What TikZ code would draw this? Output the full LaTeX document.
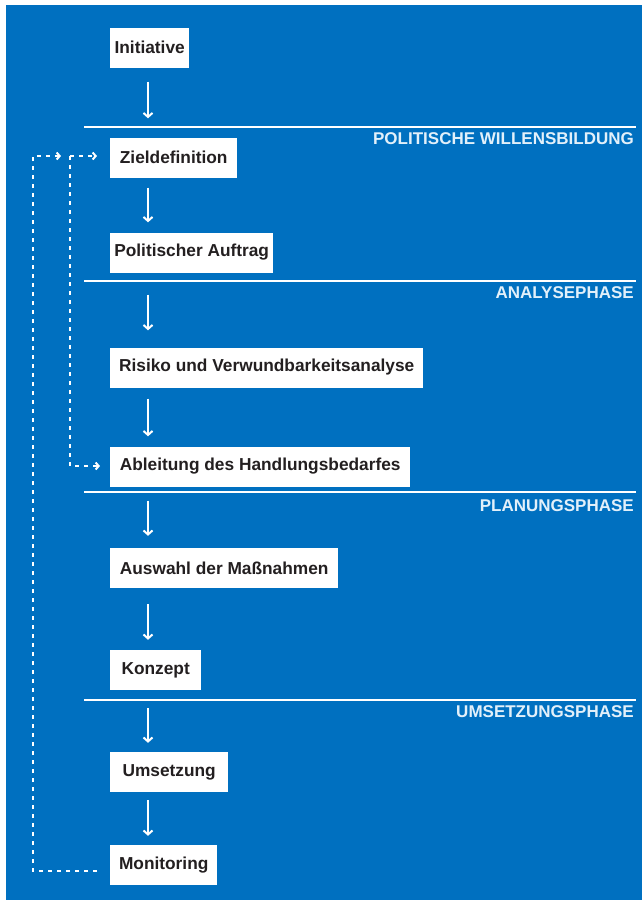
\documentclass[tikz,border=0pt]{standalone}
\usepackage{fontspec}
\setmainfont{Liberation Sans}
\usetikzlibrary{calc,arrows.meta}
\definecolor{bgblue}{HTML}{0070C0}
\definecolor{boxtext}{HTML}{231F20}
\definecolor{phasetext}{HTML}{E2F0FA}
\begin{document}
\begin{tikzpicture}[x=1pt,y=-1pt,
  stepbox/.style={fill=white, draw=none, anchor=west, inner xsep=4pt,
    minimum height=40pt, text=boxtext,
    font=\fontsize{17.3}{20}\selectfont\bfseries},
  phase/.style={anchor=east, text=phasetext, inner sep=0pt,
    font=\fontsize{17}{20}\selectfont\bfseries},
  divider/.style={draw=white, line width=2pt},
  flow/.style={draw=white, line width=2pt,
    -{Straight Barb[length=4pt,width=9pt,line width=2pt]}},
  feedback/.style={draw=white, line width=2pt, dash pattern=on 4pt off 5pt},
  feedarrow/.style={feedback, -{Straight Barb[length=3pt,width=7pt,line width=2pt]}}]

% canvas
\useasboundingbox (0,0) rectangle (642,900);
\fill[bgblue] (6,5) rectangle (642,900);

% process steps
\node[stepbox, minimum width=79pt]  (init)    at (110,47.5)  {Initiative};
\node[stepbox, minimum width=127pt] (ziel)    at (110,157.5) {Zieldefinition};
\node[stepbox, minimum width=163pt] (auftrag) at (110,252.5) {Politischer Auftrag};
\node[stepbox, minimum width=313pt] (risiko)  at (110,367.5) {Risiko und Verwundbarkeitsanalyse};
\node[stepbox, minimum width=300pt] (ableit)  at (110,466.5) {Ableitung des Handlungsbedarfes};
\node[stepbox, minimum width=228pt] (auswahl) at (110,568)   {Auswahl der Maßnahmen};
\node[stepbox, minimum width=91pt]  (konzept) at (110,670)   {Konzept};
\node[stepbox, minimum width=118pt] (umsetz)  at (110,772)   {Umsetzung};
\node[stepbox, minimum width=107pt] (monitor) at (110,865)   {Monitoring};

% phase dividers
\coordinate (d1l) at (84,127);  \coordinate (d1r) at (636,127);
\coordinate (d2l) at (84,281);  \coordinate (d2r) at (636,281);
\coordinate (d3l) at (84,492);  \coordinate (d3r) at (636,492);
\coordinate (d4l) at (84,700);  \coordinate (d4r) at (636,700);
\draw[divider] (d1l) -- (d1r);
\draw[divider] (d2l) -- (d2r);
\draw[divider] (d3l) -- (d3r);
\draw[divider] (d4l) -- (d4r);

\node[phase] (p1) at (634,139) {POLITISCHE WILLENSBILDUNG};
\node[phase] (p2) at (634,293) {ANALYSEPHASE};
\node[phase] (p3) at (634,506) {PLANUNGSPHASE};
\node[phase] (p4) at (634,712) {UMSETZUNGSPHASE};

% main flow
\draw[flow] ($(init.south west)+(38,14)$) -- ($(ziel.north west)+(38,-19)$);
\draw[flow] ($(ziel.south west)+(38,10)$) -- ($(auftrag.north west)+(38,-10)$);
\draw[flow] ($(auftrag.south west)+(38,22)$) -- ($(risiko.north west)+(38,-17)$);
\draw[flow] ($(risiko.south west)+(38,11)$) -- ($(ableit.north west)+(38,-10)$);
\draw[flow] ($(ableit.south west)+(38,14)$) -- ($(auswahl.north west)+(38,-12)$);
\draw[flow] ($(auswahl.south west)+(38,16)$) -- ($(konzept.north west)+(38,-10)$);
\draw[flow] ($(konzept.south west)+(38,18)$) -- ($(umsetz.north west)+(38,-9)$);
\draw[flow] ($(umsetz.south west)+(38,8)$) -- ($(monitor.north west)+(38,-9)$);

% feedback loop from monitoring
\coordinate (loopbl) at (33,871);
\coordinate (looptl) at (33,156);
\coordinate (hub) at (70,156);
\coordinate (hubdown) at (70,466);
\draw[feedarrow] ($(monitor.west)+(-13,6)$) -- (loopbl) -- (looptl) -- ($(hub)+(-9,0)$);
\draw[feedarrow] (hub) -- ($(ziel.west)+(-13,-1.5)$);
\draw[feedarrow] (hub) -- (hubdown) -- ($(ableit.west)+(-10,-0.5)$);
\end{tikzpicture}
\end{document}
